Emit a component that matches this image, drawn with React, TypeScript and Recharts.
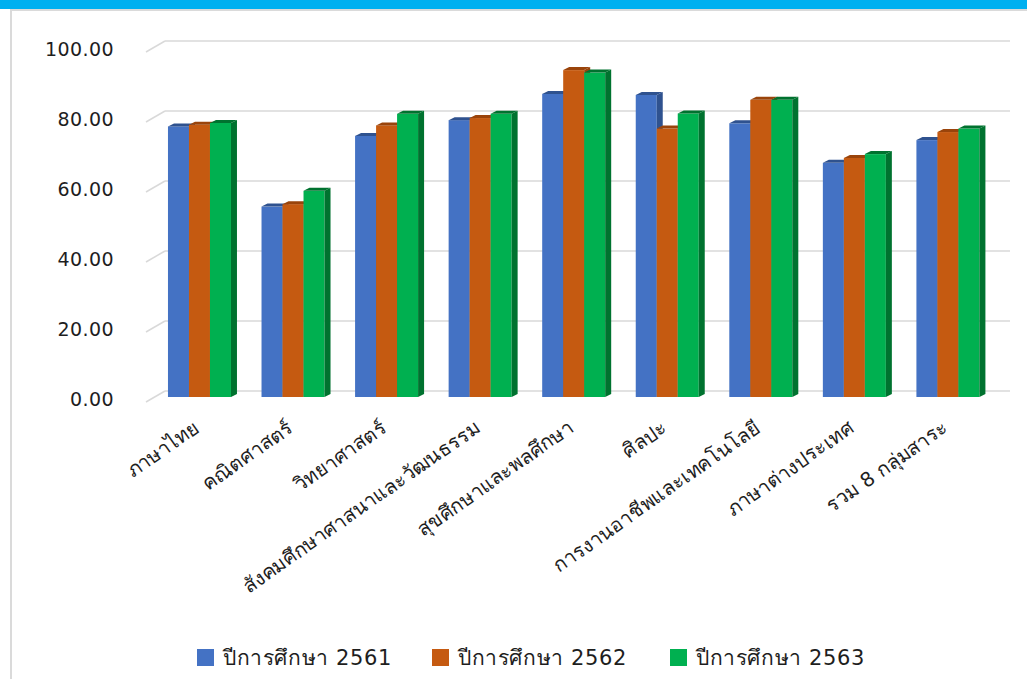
import React from "react";
import { Bar, BarChart, CartesianGrid, XAxis, YAxis } from "recharts";

const subjects = [
  "ภาษาไทย",
  "คณิตศาสตร์",
  "วิทยาศาสตร์",
  "สังคมศึกษาศาสนาและวัฒนธรรม",
  "สุขศึกษาและพลศึกษา",
  "ศิลปะ",
  "การงานอาชีพและเทคโนโลยี",
  "ภาษาต่างประเทศ",
  "รวม 8 กลุ่มสาระ",
];
const year2561 = [77.3, 54.4, 74.6, 79.1, 86.6, 86.3, 78.2, 66.9, 73.4];
const year2562 = [77.8, 55.1, 77.6, 79.7, 93.4, 76.7, 84.9, 68.3, 75.7];
const year2563 = [78.3, 58.9, 80.9, 80.9, 92.7, 81.0, 84.9, 69.4, 76.7];
const yTicks = [0, 20, 40, 60, 80, 100];

const series = [
  { key: "y2561", name: "ปีการศึกษา 2561", fill: "#4472c4", dark: "#2f528f" },
  { key: "y2562", name: "ปีการศึกษา 2562", fill: "#c55a11", dark: "#9a440b" },
  { key: "y2563", name: "ปีการศึกษา 2563", fill: "#00b050", dark: "#00722f" },
];
const legendLeft = [197, 432, 670];

const data = subjects.map((s, i) => ({
  subject: s,
  y2561: year2561[i],
  y2562: year2562[i],
  y2563: year2563[i],
}));

const FONT = "Tahoma, 'DejaVu Sans', sans-serif";
const DX = 6;
const DY = 3;

// column with a darker side and top face, fake 3D look
function Column3D(props: any) {
  const { x, y, width: w, height: h, fill, dark } = props;
  if (h <= 0) return null;
  return (
    <g>
      <rect x={x} y={y} width={w} height={h} fill={fill} />
      <polygon
        points={`${x + w},${y} ${x + w + DX},${y - DY} ${x + w + DX},${y + h - DY} ${x + w},${y + h}`}
        fill={dark}
      />
      <polygon
        points={`${x},${y} ${x + DX},${y - DY} ${x + w + DX},${y - DY} ${x + w},${y}`}
        fill={dark}
      />
    </g>
  );
}

function GridLine(props: any) {
  const { x1, x2, y1 } = props;
  return (
    <g>
      <line x1={x1 - 7} y1={y1 + 5} x2={x1 + 12} y2={y1 - 6} stroke="#d9d9d9" strokeWidth={1.5} />
      <line x1={x1 + 12} y1={y1 - 6} x2={x2 + 15} y2={y1 - 6} stroke="#d9d9d9" strokeWidth={1.5} />
    </g>
  );
}

function YTick(props: any) {
  const { x, y, payload } = props;
  return (
    <text
      x={x}
      y={y}
      dy={9}
      textAnchor="end"
      fontFamily="'DejaVu Sans', sans-serif"
      fontSize={19}
      letterSpacing={0.4}
      fill="#1e1e1e"
    >
      {Number(payload.value).toFixed(2)}
    </text>
  );
}

function XTick(props: any) {
  const { x, y, payload } = props;
  const tx = x - 6;
  const ty = y + 4;
  return (
    <text
      x={tx}
      y={ty}
      dy={12}
      textAnchor="end"
      transform={`rotate(-35, ${tx}, ${ty})`}
      fontFamily={FONT}
      fontSize={20}
      fill="#1e1e1e"
    >
      {payload.value}
    </text>
  );
}

export default function App() {
  return (
    <div
      style={{
        position: "fixed",
        left: 0,
        top: 0,
        width: 1027,
        height: 679,
        background: "#fff",
        overflow: "hidden",
      }}
    >
      <div style={{ position: "absolute", left: 0, top: 0, width: 1027, height: 9, background: "#00b0f0" }} />
      <div style={{ position: "absolute", left: 10, top: 9, width: 1017, height: 2, background: "#dadada" }} />
      <div style={{ position: "absolute", left: 10, top: 9, width: 2, height: 670, background: "#dadada" }} />
      <div style={{ position: "absolute", left: 0, top: 0 }}>
        <BarChart
          width={1027}
          height={679}
          data={data}
          margin={{ top: 47, right: 32, bottom: 0, left: 0 }}
          barCategoryGap="16%"
          barGap={0}
        >
          <CartesianGrid vertical={false} horizontal={<GridLine />} />
          <XAxis
            dataKey="subject"
            axisLine={false}
            tickLine={false}
            interval={0}
            height={282}
            tickMargin={14}
            tick={<XTick />}
          />
          <YAxis
            domain={[0, 100]}
            ticks={yTicks}
            width={153}
            axisLine={false}
            tickLine={false}
            tickMargin={33}
            tick={<YTick />}
          />
          {series.map((s) => (
            <Bar
              key={s.key}
              dataKey={s.key}
              name={s.name}
              fill={s.fill}
              isAnimationActive={false}
              shape={(p: any) => <Column3D {...p} fill={s.fill} dark={s.dark} />}
            />
          ))}
        </BarChart>
      </div>
      {series.map((s, i) => (
        <div
          key={s.key}
          style={{
            position: "absolute",
            top: 641,
            left: legendLeft[i],
            display: "flex",
            alignItems: "center",
            fontFamily: FONT,
            fontSize: 21,
            letterSpacing: 0.6,
            color: "#1e1e1e",
            whiteSpace: "nowrap",
          }}
        >
          <span style={{ width: 17, height: 17, background: s.fill, display: "inline-block", marginRight: 9 }} />
          <span>{s.name}</span>
        </div>
      ))}
    </div>
  );
}
